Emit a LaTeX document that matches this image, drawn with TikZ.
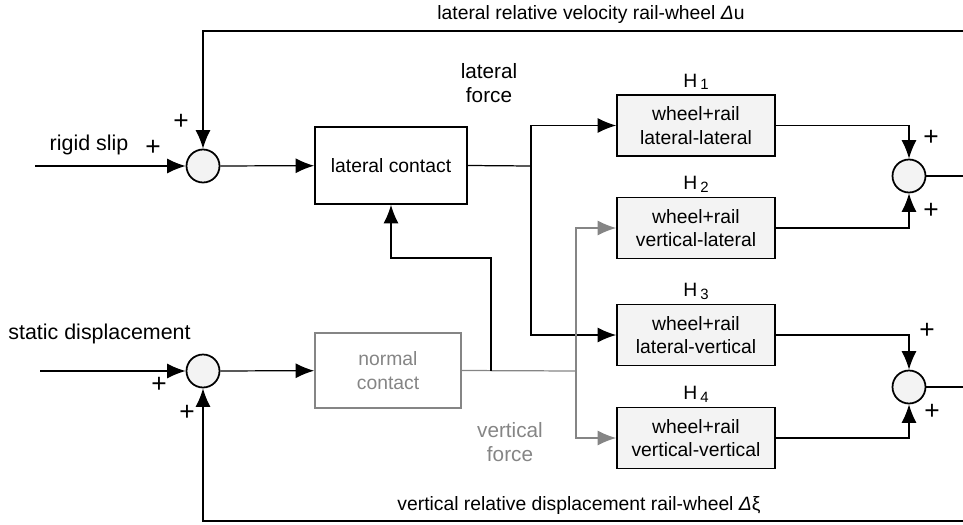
\documentclass[tikz,border=0pt]{standalone}
\usepackage{fontspec}
\setmainfont{Liberation Sans}
\usetikzlibrary{arrows.meta}

\definecolor{boxfill}{HTML}{F3F3F3}
\definecolor{flowgray}{HTML}{858585}

\tikzset{
  sysbox/.style={draw, line width=1pt, fill=boxfill, minimum width=3.16cm,
    minimum height=1.22cm, align=center, inner sep=2pt},
  contactbox/.style={draw, line width=1pt, fill=white, align=center, inner sep=2pt},
  sumnode/.style={draw, circle, line width=1pt, fill=boxfill, minimum size=0.66cm, inner sep=0pt},
  sig/.style={-{Latex[length=10.5pt,width=8.5pt]}, line width=0.7pt},
  graysig/.style={sig, draw=flowgray, -{Latex[length=10.5pt,width=8.5pt,fill=flowgray]}},
  plain/.style={line width=0.7pt},
  sign/.style={inner sep=0pt, font=\fontsize{15}{17}\selectfont},
  biglbl/.style={font=\fontsize{12.2}{14}\selectfont},
  forcelbl/.style={align=center, font=\fontsize{11.8}{13.5}\selectfont},
}

\newcommand{\hsub}[1]{H\,{\fontsize{8.5}{10}\selectfont\raisebox{-1.5pt}{#1}}}

\begin{document}
\begin{tikzpicture}[x=0.02cm, y=-0.02cm, font=\fontsize{11}{13.5}\selectfont]
    \useasboundingbox (0,0) rectangle (963,524);

    % Summation points
    \node[sumnode] (sumlat) at (203,166) {};
    \node[sumnode] (sumvert) at (203,371) {};
    \node[sumnode] (sumout1) at (909,176) {};
    \node[sumnode] (sumout2) at (909,387) {};

    % Contact blocks
    \node[contactbox, minimum width=3.04cm, minimum height=1.54cm] (latc) at (391,165.5) {lateral contact};
    \node[contactbox, draw=flowgray, text=flowgray, minimum width=2.92cm, minimum height=1.5cm] (normc) at (388,370.5) {normal\\contact};

    % Transfer blocks H1..H4
    \node[sysbox, label={[yshift=-1pt]above:\hsub{1}}] (h1) at (696,125.5) {wheel+rail\\lateral-lateral};
    \node[sysbox, label={[yshift=-1pt]above:\hsub{2}}] (h2) at (696,228) {wheel+rail\\vertical-lateral};
    \node[sysbox, label={[yshift=-1pt]above:\hsub{3}}] (h3) at (696,335) {wheel+rail\\lateral-vertical};
    \node[sysbox, label={[yshift=-1pt]above:\hsub{4}}] (h4) at (696,438) {wheel+rail\\vertical-vertical};

    % Inputs
    \coordinate (inslip) at (35,166);
    \coordinate (instat) at (40,371);
    \draw[sig] (inslip) -- (sumlat.west);
    \draw[sig] (instat) -- (sumvert.west);
    \node[biglbl] (slip) at (89,145) {rigid slip};
    \node[biglbl] (stat) at (99.5,334) {static displacement};

    % Feedback paths
    \coordinate (velfb) at (963,31);
    \coordinate (dispfb) at (963,521);
    \draw[sig] (velfb) -| (sumlat.north);
    \draw[sig] (dispfb) -| (sumvert.south);
    \node (vellbl) at (591,15) {lateral relative velocity rail-wheel \textit{Δ}u};
    \node (displbl) at (579,505) {vertical relative displacement rail-wheel \textit{Δ}ξ};

    % Into the contact blocks
    \draw[sig] (sumlat) -- (latc);
    \draw[sig] (sumvert) -- (normc);

    % Lateral force distribution
    \coordinate (jlat) at (531,166);
    \draw[plain] (latc.east) -- (jlat);
    \draw[sig] (jlat) |- (h1.west);
    \draw[sig] (jlat) |- (h3.west);
    \node[forcelbl] (latf) at (489,83) {lateral\\force};

    % Vertical force distribution
    \coordinate (jvert) at (576,371);
    \draw[plain, draw=flowgray] (normc.east) -- (jvert);
    \draw[graysig] (jvert) |- (h2.west);
    \draw[graysig] (jvert) |- (h4.west);
    \node[forcelbl, text=flowgray] (vertf) at (510,442) {vertical\\force};

    % Normal force back to lateral contact
    \coordinate (jnorm) at (491,371);
    \coordinate (knee) at (491,258);
    \draw[sig] (jnorm) -- (knee) -| (latc.south);

    % Outputs of H blocks
    \draw[sig] (h1.east) -| (sumout1.north);
    \draw[sig] (h2.east) -| (sumout1.south);
    \draw[sig] (h3.east) -| (sumout2.north);
    \draw[sig] (h4.east) -| (sumout2.south);
    \coordinate (out1) at (963,176);
    \coordinate (out2) at (963,387);
    \draw[plain] (sumout1.east) -- (out1);
    \draw[plain] (sumout2.east) -- (out2);

    % Signs
    \node[sign] (p1) at (153,148) {+};
    \node[sign] (p2) at (181,122) {+};
    \node[sign] (p3) at (159,385) {+};
    \node[sign] (p4) at (187,413) {+};
    \node[sign] (p5) at (931,138) {+};
    \node[sign] (p6) at (931,211) {+};
    \node[sign] (p7) at (927,331) {+};
    \node[sign] (p8) at (932,412) {+};
\end{tikzpicture}
\end{document}
